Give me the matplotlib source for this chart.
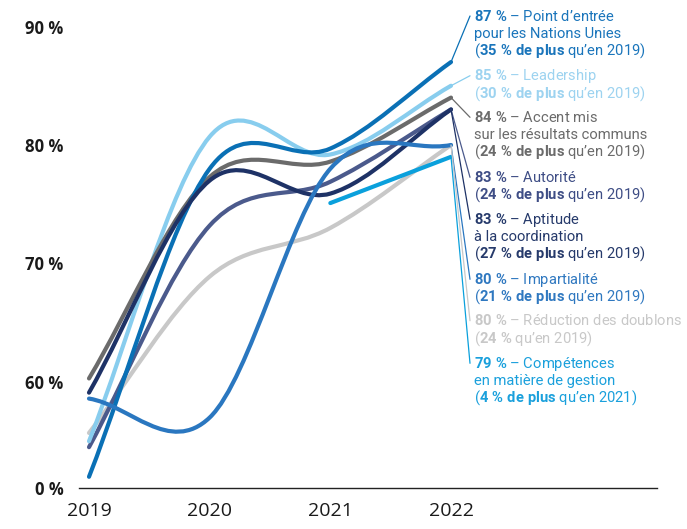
import numpy as np
import matplotlib
matplotlib.use("Agg")
import matplotlib.pyplot as plt
from matplotlib.path import Path
from matplotlib.patches import PathPatch

plt.rcParams["font.family"] = ["Roboto", "DejaVu Sans"]
plt.rcParams["mathtext.fontset"] = "custom"
plt.rcParams["mathtext.rm"] = "Roboto"
plt.rcParams["mathtext.bf"] = "Roboto:bold"
plt.rcParams["mathtext.it"] = "Roboto:italic"

# values (% of respondents)
years = [2019, 2020, 2021, 2022]
point_entree = [52.0, 78.0, 79.7, 87.0]
leadership = [55.0, 80.7, 79.2, 85.0]
accent_resultats = [60.3, 77.3, 78.6, 84.0]
autorite = [54.5, 73.2, 76.9, 83.0]
aptitude_coord = [59.1, 77.0, 75.9, 83.0]
impartialite = [58.6, 57.0, 78.0, 80.0]
reduction_doublons = [55.7, 68.9, 73.0, 80.0]
competences_years = [2021, 2022]
competences = [75.1, 79.0]

tick_values = [60, 70, 80, 90]
tick_labels = ["60 %", "70 %", "80 %", "90 %"]

# label texts, same order as the series above
names = [
    ["Point d’entrée", "pour les Nations Unies"],
    ["Leadership"],
    ["Accent mis", "sur les résultats communs"],
    ["Autorité"],
    ["Aptitude", "à la coordination"],
    ["Impartialité"],
    ["Réduction des doublons"],
    ["Compétences", "en matière de gestion"],
]
gains = ["35 % de plus", "30 % de plus", "24 % de plus", "24 % de plus",
         "27 % de plus", "21 % de plus", "24 %", "4 % de plus"]
gain_refs = ["qu’en 2019"] * 7 + ["qu’en 2021"]

series = [
    (years, point_entree, "#0a70b5"),
    (years, leadership, "#88cdee"),
    (years, accent_resultats, "#6b6b6b"),
    (years, autorite, "#4b5a8c"),
    (years, aptitude_coord, "#1e3266"),
    (years, impartialite, "#2a77c0"),
    (years, reduction_doublons, "#c8c8c8"),
    (competences_years, competences, "#0aa0dc"),
]
text_colors = ["#1a75bb", "#9dd3f0", "#6b6b6b", "#3e4d85",
               "#263a6b", "#2f78c0", "#c8c8c8", "#1aa0dc"]
draw_order = [6, 3, 1, 2, 0, 4, 5, 7]

W, H = 687, 529
PX_YEAR = 120.67
PX_PCT = 11.85


def smooth_path(xs, ys):
    pts = np.column_stack([xs, ys]).astype(float)
    n = len(pts)
    if n == 2:
        return Path(pts, [Path.MOVETO, Path.LINETO])
    m = np.zeros_like(pts)
    m[0] = pts[1] - pts[0]
    m[-1] = pts[-1] - pts[-2]
    m[1:-1] = (pts[2:] - pts[:-2]) / 2
    verts, codes = [pts[0]], [Path.MOVETO]
    for i in range(n - 1):
        verts += [pts[i] + m[i] / 3, pts[i + 1] - m[i + 1] / 3, pts[i + 1]]
        codes += [Path.CURVE4] * 3
    return Path(verts, codes)


fig = plt.figure(figsize=(W / 100, H / 100), dpi=100)
ax = fig.add_axes([79 / W, 41 / H, 578 / W, 488 / H])
ax.set_xlim(2019 - 10 / PX_YEAR, 2019 + 568 / PX_YEAR)
y0 = 60 - 106 / PX_PCT
ax.set_ylim(y0, 60 + 382 / PX_PCT)

for i in draw_order:
    xs, ys, c = series[i]
    ax.add_patch(PathPatch(smooth_path(xs, ys), fill=False, edgecolor=c,
                           lw=3.0, capstyle="round", joinstyle="round"))

for s in ["top", "right", "left"]:
    ax.spines[s].set_visible(False)
ax.spines["bottom"].set_color("#222222")
ax.spines["bottom"].set_linewidth(1.0)

ax.set_xticks(years)
ax.set_xticklabels([str(y) for y in years], fontfamily="Open Sans",
                   fontsize=14, color="#1a1a1a")
ax.set_yticks([y0] + tick_values)
ax.set_yticklabels(["0 %"] + tick_labels, fontfamily="Open Sans",
                   fontweight="bold", fontsize=12, color="#1a1a1a")
ax.tick_params(axis="x", length=0, pad=10)
ax.tick_params(axis="y", length=0, pad=11)

# labels at the right with leader lines
label_top = [16, 75.7, 117.3, 177.3, 219.3, 279.3, 320.7, 363.3]
line_step = 17
text_x = 474
for i, (xs, ys, c) in enumerate(series):
    tc = text_colors[i]
    yc = label_top[i]
    ax.annotate("", xy=(xs[-1], ys[-1]), xycoords="data",
                xytext=(470, H - yc), textcoords="figure pixels",
                arrowprops=dict(arrowstyle="-", color=c, lw=0.9,
                                shrinkA=0, shrinkB=0),
                annotation_clip=False)
    lines = [r"$\mathbf{%d\ \%%}$ – %s" % (round(ys[-1]), names[i][0])]
    lines += names[i][1:]
    bold_gain = gains[i].replace(" ", r"\ ").replace("%", r"\%")
    lines.append(r"($\mathbf{%s}$ %s)" % (bold_gain, gain_refs[i]))
    for k, ln in enumerate(lines):
        fig.text(text_x / W, 1 - (yc + k * line_step + 4.7) / H, ln,
                 color=tc, fontsize=10.6, va="baseline", ha="left")

fig.savefig("out.png", dpi=100)
